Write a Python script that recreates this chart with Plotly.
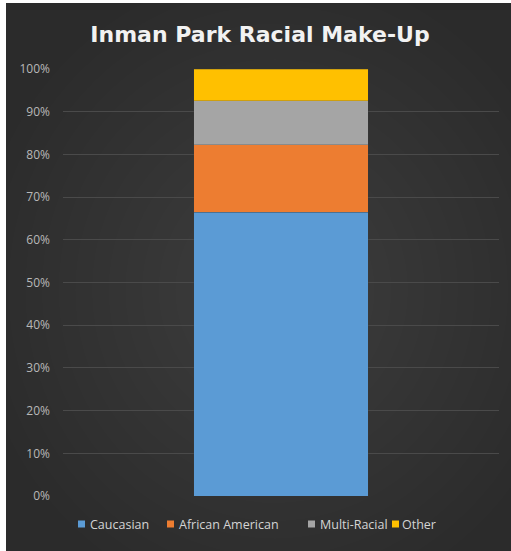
import plotly.graph_objects as go

categories = ["Inman Park"]
series_names = ["Caucasian", "African American", "Multi-Racial", "Other"]
series_values = [0.665, 0.158, 0.103, 0.074]
series_colors = ["#5b9bd5", "#ed7d31", "#a5a5a5", "#ffc000"]
tick_vals = [0, 0.1, 0.2, 0.3, 0.4, 0.5, 0.6, 0.7, 0.8, 0.9, 1.0]
tick_text = ["0%", "10%", "20%", "30%", "40%", "50%", "60%", "70%", "80%", "90%", "100%"]

fig = go.Figure()
for name, val, col in zip(series_names, series_values, series_colors):
    fig.add_trace(go.Bar(
        x=categories, y=[val], name=name, showlegend=False,
        marker=dict(color=col, line=dict(color="rgba(60,60,60,0.5)", width=0.5)),
    ))

W, H = 511, 551
L, R, T, B = 63, 12, 69, 55
pw, ph = W - L - R, H - T - B

def px_x(px):
    return (px - L) / pw

def px_y(py):
    return (H - B - py) / ph

shapes = [dict(type="rect", xref="paper", yref="paper", layer="below",
               x0=px_x(6), x1=px_x(W + 2), y0=px_y(H + 2), y1=px_y(3),
               fillcolor="#2b2b2b", line=dict(width=0))]
# soft radial lightening toward the centre
cx, cy = 275, 290
n = 18
for i in range(n):
    f = 1 - i / n
    rx = 300 * f
    ry = 320 * f
    shapes.append(dict(type="circle", xref="paper", yref="paper", layer="below",
                       x0=px_x(cx - rx), x1=px_x(cx + rx),
                       y0=px_y(cy + ry), y1=px_y(cy - ry),
                       fillcolor="rgba(255,255,255,0.0095)", line=dict(width=0)))

# legend built from squares + text
legend_sq_x = [78, 167, 308, 392]
legend_txt_x = [88, 177, 318, 400]
legend_y = 524
annotations = []
for name, col, sx, tx in zip(series_names, series_colors, legend_sq_x, legend_txt_x):
    shapes.append(dict(type="rect", xref="paper", yref="paper", layer="above",
                       x0=px_x(sx), x1=px_x(sx + 7), y0=px_y(legend_y + 3.5), y1=px_y(legend_y - 3.5),
                       fillcolor=col, line=dict(width=0)))
    annotations.append(dict(text=name, xref="paper", yref="paper", x=px_x(tx), y=px_y(legend_y),
                            xanchor="left", yanchor="middle", showarrow=False,
                            font=dict(family="Open Sans", size=12.5, color="#d4d4d4")))

fig.update_layout(
    width=W, height=H,
    barmode="stack", bargap=0.6,
    paper_bgcolor="white", plot_bgcolor="rgba(0,0,0,0)",
    margin=dict(l=L, r=R, t=T, b=B, pad=0, autoexpand=False),
    shapes=shapes,
    annotations=annotations,
    title=dict(text="<b>Inman Park Racial Make-Up</b>", x=260 / W, xref="container", xanchor="center",
               y=1 - 34 / H, yref="container", yanchor="middle", automargin=False,
               font=dict(family="DejaVu Sans", size=22, color="#f2f2f2")),
    xaxis=dict(showticklabels=False, showgrid=False, zeroline=False, showline=False, automargin=False),
    yaxis=dict(range=[0, 1], tickvals=tick_vals, ticktext=tick_text, showgrid=True,
               gridcolor="#4a4a4a", gridwidth=1, zeroline=False, showline=False,
               ticks="", ticklabelstandoff=12, automargin=False,
               tickfont=dict(family="Open Sans", size=12, color="#b8b8b8")),
    showlegend=False,
)

fig.write_html("out.html", config={"displayModeBar": False},
               post_script="document.body.style.margin='0';document.body.style.overflow='hidden';")
